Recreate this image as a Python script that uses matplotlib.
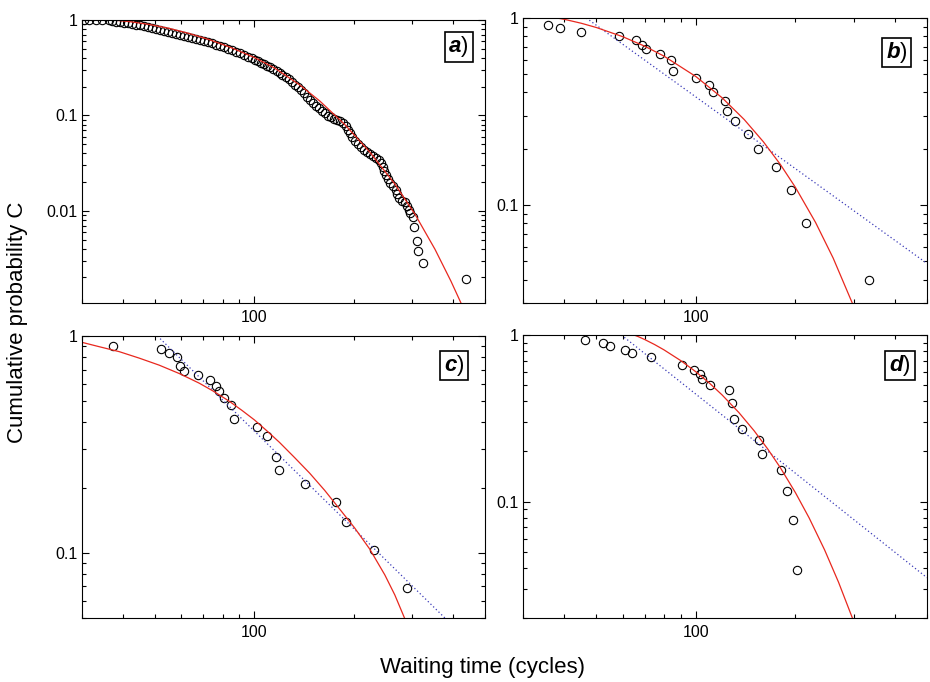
import matplotlib
matplotlib.use('Agg')
import matplotlib.pyplot as plt
from matplotlib.ticker import LogLocator, FuncFormatter, NullFormatter
from matplotlib.offsetbox import TextArea, HPacker, AnnotationBbox

plt.rcParams['font.family'] = ['Liberation Sans', 'DejaVu Sans']

# panel a - waiting times and cumulative probability
a_t = [30.4, 31.5, 33.1, 34.5, 36.2,
       37.0, 38.05, 39.13, 40.24, 41.38, 42.56, 43.77, 45.01, 46.29, 47.60,
       48.95, 50.34, 51.77, 53.24, 54.75, 56.31, 57.91, 59.55, 61.24, 62.98,
       64.77, 66.61, 68.50, 70.44, 72.44, 74.50, 76.62, 78.79, 81.03, 83.33,
       85.70, 88.13, 90.63, 93.20, 95.85, 98.57,
       100.7, 102.8, 105.0, 107.2, 109.5, 111.8, 114.2, 116.7, 119.1, 121.6,
       124.2, 126.9, 129.6, 132.3, 135.1, 138.0, 140.9, 143.9, 147.0, 150.1,
       153.3, 156.5, 159.8, 163.2,
       166.7, 170.2, 173.9, 177.5, 181.3, 185.1, 189.1, 192.4, 195.1, 197.9,
       201.4, 205.6, 210.0, 214.5, 219.0, 223.6, 228.4, 233.2, 238.2, 242.4,
       244.9, 246.7, 250.2, 253.7, 258.2, 263.6, 268.3, 271.1, 274.0, 279.8,
       285.7, 290.8, 293.9, 297.0, 301.6,
       304.3, 310.1, 312.3, 323.4, 437.8]
a_c = [0.998, 0.996, 0.994, 0.992, 0.990,
       0.976, 0.962, 0.948, 0.935, 0.921, 0.908, 0.893, 0.876, 0.861, 0.847,
       0.831, 0.811, 0.791, 0.773, 0.754, 0.736, 0.719, 0.702, 0.685, 0.669,
       0.653, 0.636, 0.619, 0.601, 0.586, 0.570, 0.553, 0.534, 0.518, 0.501,
       0.485, 0.466, 0.448, 0.430, 0.414, 0.397,
       0.383, 0.369, 0.356, 0.344, 0.331, 0.320, 0.307, 0.292, 0.278, 0.264,
       0.252, 0.239, 0.225, 0.210, 0.197, 0.183, 0.170, 0.157, 0.145, 0.134,
       0.126, 0.119, 0.112, 0.105,
       0.0993, 0.0958, 0.0923, 0.0893, 0.0865, 0.0824, 0.0767, 0.0705, 0.0648, 0.0595,
       0.0541, 0.0497, 0.0462, 0.0435, 0.0415, 0.0395, 0.0377, 0.0359, 0.0338, 0.0314,
       0.0285, 0.0259, 0.0235, 0.0214, 0.0194, 0.0181, 0.0166, 0.0151, 0.0135, 0.0127,
       0.0123, 0.0113, 0.0102, 0.0094, 0.0086,
       0.0067, 0.0048, 0.0038, 0.00285, 0.00191]
a_fit_t = [37.0, 41.7, 48.0, 55.2, 63.4, 73.0, 83.9, 100.0, 115.0, 137.0,
           157.6, 187.8, 223.6, 266.4, 306.4, 352.5, 394.2, 422.8]
a_fit_c = [1.0, 0.962, 0.898, 0.816, 0.722, 0.622, 0.522, 0.404, 0.314, 0.209,
           0.142, 0.0803, 0.0413, 0.0191, 0.00926, 0.00396, 0.00183, 0.00108]

# panel b
b_t = [35.8, 38.8, 44.8, 58.4, 65.8, 68.8, 70.4, 77.8, 83.8, 85.4, 100.2,
       109.3, 112.3, 122.7, 124.1, 131.5, 143.4, 154.2, 175.1, 194.5, 215.4, 333.8]
b_c = [0.92, 0.88, 0.84, 0.80, 0.76, 0.72, 0.68, 0.64, 0.60, 0.52, 0.48,
       0.44, 0.40, 0.36, 0.32, 0.28, 0.24, 0.20, 0.16, 0.12, 0.08, 0.04]
b_fit_t = [38, 40, 45, 50, 60, 70, 80, 100, 120, 140, 160, 180, 200, 230, 260, 300]
b_fit_c = [1.0, 0.984, 0.9375, 0.8895, 0.7953, 0.7070, 0.6261, 0.4865, 0.3748,
           0.2867, 0.2180, 0.1651, 0.1244, 0.0809, 0.0522, 0.0288]
b_pow_t = [46.6, 500]
b_pow_c = [1.0, 0.0488]

# panel c
c_t = [37.3, 52.2, 55.2, 58.3, 59.6, 61.3, 67.3, 73.3, 76.5, 77.9, 80.6,
       85.1, 86.9, 101.6, 109.3, 116.6, 118.3, 142.2, 177.1, 189.1, 230.0, 289.7]
c_c = [0.902, 0.868, 0.832, 0.799, 0.729, 0.691, 0.658, 0.624, 0.591, 0.556, 0.516,
       0.483, 0.414, 0.379, 0.345, 0.276, 0.240, 0.207, 0.172, 0.138, 0.103, 0.069]
c_fit_t = [30.0, 33.8, 38.9, 44.7, 51.4, 59.2, 68.0, 75.6, 83.9, 91.6, 100.0,
           109.1, 119.1, 132.3, 147.0, 163.3, 181.3, 201.4, 223.6, 248.4, 266.4, 285.7]
c_fit_c = [0.935, 0.893, 0.847, 0.791, 0.734, 0.671, 0.606, 0.553, 0.500, 0.454, 0.410,
           0.365, 0.323, 0.275, 0.233, 0.194, 0.159, 0.130, 0.104, 0.0791, 0.0639, 0.0496]
c_pow_t = [50.8, 378.0]
c_pow_c = [1.0, 0.05]

# panel d
d_t = [46.2, 52.3, 55.1, 61.2, 64.1, 73.1, 90.9, 98.6, 103.0, 104.5, 110.5,
       125.6, 128.8, 130.4, 137.5, 155.5, 158.5, 181.0, 188.3, 196.3, 201.9]
d_c = [0.933, 0.896, 0.856, 0.817, 0.777, 0.738, 0.661, 0.620, 0.584, 0.545, 0.504,
       0.467, 0.388, 0.311, 0.272, 0.234, 0.194, 0.155, 0.116, 0.0777, 0.0388]
d_fit_t = [65, 67, 70, 75, 80, 90, 100, 110, 120, 135, 150, 165, 180, 200, 220, 245, 270, 300]
d_fit_c = [1.0, 0.9769, 0.9393, 0.8763, 0.8151, 0.7016, 0.6010, 0.5131, 0.4367,
           0.3416, 0.2661, 0.2065, 0.1599, 0.1131, 0.0798, 0.0513, 0.0328, 0.0191]
d_pow_t = [59.5, 500]
d_pow_c = [1.0, 0.0349]

panels = [
    ('a', [0.0882, 0.5557, 0.4333, 0.4150], 0.00108, a_t, a_c, a_fit_t, a_fit_c, None, None, (0.935, 0.905)),
    ('b', [0.5624, 0.5557, 0.4344, 0.4179], 0.03, b_t, b_c, b_fit_t, b_fit_c, b_pow_t, b_pow_c, (0.925, 0.878)),
    ('c', [0.0882, 0.0938, 0.4333, 0.4135], 0.05, c_t, c_c, c_fit_t, c_fit_c, c_pow_t, c_pow_c, (0.924, 0.895)),
    ('d', [0.5624, 0.0938, 0.4344, 0.4150], 0.02, d_t, d_c, d_fit_t, d_fit_c, d_pow_t, d_pow_c, (0.933, 0.893)),
]

fig = plt.figure(figsize=(9.3, 6.82), dpi=100)

for name, rect, ymin, t, c, ft, fc, pt, pc, lab in panels:
    ax = fig.add_axes(rect)
    ax.set_xscale('log')
    ax.set_yscale('log')
    ax.plot(t, c, linestyle='none', marker='o', markersize=6,
            markerfacecolor='none', markeredgecolor='black', markeredgewidth=0.8)
    if pt is not None:
        ax.plot(pt, pc, color='#3a3ab8', lw=0.9, linestyle=(0, (1, 2)))
    ax.plot(ft, fc, color='#e8281e', lw=0.9, solid_joinstyle='round')
    ax.set_xlim(30, 500)
    ax.set_ylim(ymin, 1)

    ax.xaxis.set_major_locator(LogLocator(base=10))
    ax.xaxis.set_minor_locator(LogLocator(base=10, subs=range(2, 10)))
    ax.xaxis.set_minor_formatter(NullFormatter())
    ax.xaxis.set_major_formatter(FuncFormatter(lambda v, p: f'{v:g}'))
    ax.yaxis.set_major_locator(LogLocator(base=10))
    ax.yaxis.set_minor_locator(LogLocator(base=10, subs=range(2, 10)))
    ax.yaxis.set_minor_formatter(NullFormatter())
    ax.yaxis.set_major_formatter(FuncFormatter(lambda v, p: f'{v:g}'))

    ax.tick_params(which='both', direction='in', top=True, right=True,
                   width=0.8, labelsize=11.5)
    ax.tick_params(which='major', length=5)
    ax.tick_params(which='minor', length=3)
    ax.tick_params(axis='x', pad=5)
    ax.tick_params(axis='y', pad=3)
    for s in ax.spines.values():
        s.set_linewidth(0.8)

    ta1 = TextArea(name, textprops=dict(fontsize=16, fontweight='bold', fontstyle='italic'))
    ta2 = TextArea(')', textprops=dict(fontsize=16))
    pk = HPacker(children=[ta1, ta2], pad=0, sep=0, align='baseline')
    ab = AnnotationBbox(pk, lab, xycoords='axes fraction', box_alignment=(0.5, 0.5),
                        frameon=True, pad=0.3,
                        bboxprops=dict(edgecolor='black', facecolor='white', lw=1.2,
                                       boxstyle='square,pad=0.3'))
    ax.add_artist(ab)

fig.text(17.5 / 930, 1 - 322 / 682, 'Cumulative probability C', rotation=90,
         ha='center', va='center', fontsize=16)
fig.text(482 / 930, 1 - 668 / 682, 'Waiting time (cycles)', ha='center',
         va='center', fontsize=16)

plt.savefig('out.png', dpi=100)
